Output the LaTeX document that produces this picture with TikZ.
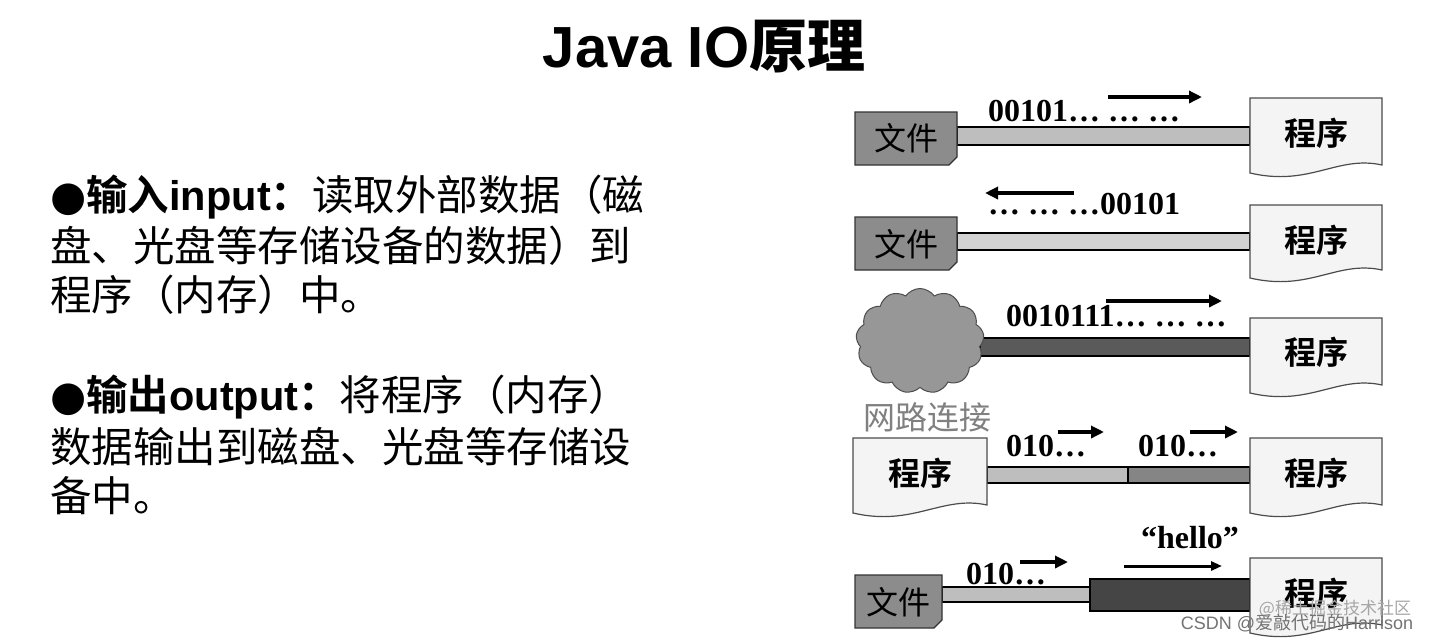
\documentclass[tikz,border=0pt]{standalone}
\usepackage{fontspec}
\usetikzlibrary{shapes.symbols,arrows.meta}
\setmainfont{Liberation Serif}
\newfontfamily\cjk{Noto Sans CJK SC}
\newfontfamily\cjkb{Noto Sans CJK SC Bold}
\newfontfamily\tsans{Liberation Sans}
\newfontfamily\dsans{DejaVu Sans}
\definecolor{filegray}{HTML}{8C8C8C}
\definecolor{barA}{HTML}{BEBEBE}
\definecolor{barB}{HTML}{D2D2D2}
\definecolor{barC}{HTML}{5A5A5A}
\definecolor{barD}{HTML}{858585}
\definecolor{barE}{HTML}{454545}
\definecolor{docfill}{HTML}{F4F4F4}
\tikzset{
  x=1pt,y=-1pt,
  bar/.style={draw=black,line width=1.2pt},
  doc/.style={draw=black!70,fill=docfill,line width=1.2pt},
  filebox/.style={draw=black!80,fill=filegray,line width=1.2pt},
  lbl/.style={font=\cjk\fontsize{32}{32}\selectfont,inner sep=0},
  lblb/.style={font=\cjkb\fontsize{32}{32}\selectfont,inner sep=0},
  num/.style={font=\bfseries\fontsize{32}{32}\selectfont,inner sep=0,anchor=west},
  arr/.style={-{Triangle[length=13pt,width=12pt]},line width=4.5pt},
  body/.style={font=\cjk\fontsize{41.5}{41.5}\selectfont,anchor=west,inner sep=0}
}
\newcommand{\docshape}[4]{% x0 y0 x1 yb
  \path[doc] (#1,#2) -- (#3,#2) -- (#3,#4) .. controls (#3-45,#4-10) and (#1+60,#4+22) .. (#1,#4+8) -- cycle;}
\newcommand{\fileshape}[4]{% x0 y0 x1 y1
  \path[filebox] (#1,#2) -- (#3,#2) -- (#3,#4-8) -- (#3-8,#4) -- (#1,#4) -- cycle;}
\begin{document}
\begin{tikzpicture}
\useasboundingbox[fill=white] (0,0) rectangle (1433,641);
\node[inner sep=0] (title) at (704,47) {\tsans\bfseries\fontsize{58}{58}\selectfont Java IO\cjkb 原理};
% left text
\node[body] (t1) at (50,197) {{\dsans ●}{\cjkb 输入}{\tsans\bfseries input}{\cjkb ：}读取外部数据（磁};
\node[body] (t2) at (50,246) {盘、光盘等存储设备的数据）到};
\node[body] (t3) at (50,295) {程序（内存）中。};
\node[body] (t4) at (50,397) {{\dsans ●}{\cjkb 输出}{\tsans\bfseries output}{\cjkb ：}将程序（内存）};
\node[body] (t5) at (50,447) {数据输出到磁盘、光盘等存储设};
\node[body] (t6) at (50,496) {备中。};
% row 1
\path[bar,fill=barA] (957,127) rectangle (1250,145);
\fileshape{855}{112}{957}{165}
\node[lbl] (f1) at (906,138) {文件};
\docshape{1250}{98}{1382}{165}
\node[lblb] (p1) at (1316,133) {程序};
\node[num] (n1) at (988,111) {00101… … …};
\coordinate (a1s) at (1108,97); \coordinate (a1e) at (1202,97);
\draw[arr] (a1s) -- (a1e);
% row 2
\path[bar,fill=barB] (957,233) rectangle (1250,250);
\fileshape{855}{217}{957}{270}
\node[lbl] (f2) at (906,244) {文件};
\docshape{1250}{205}{1382}{270}
\node[lblb] (p2) at (1316,240) {程序};
\node[num] (n2) at (988,204) {… … …00101};
\coordinate (a2s) at (1074,193); \coordinate (a2e) at (985,193);
\draw[arr] (a2s) -- (a2e);
% row 3
\path[bar,fill=barC] (980,338) rectangle (1250,356);
\node[cloud,cloud puffs=13,cloud puff arc=110,aspect=1.3,draw=black!70,fill=filegray!90,line width=1pt,minimum width=128pt,minimum height=105pt,inner sep=0] (cl) at (920,341) {};
\docshape{1250}{318}{1382}{385}
\node[lblb] (p3) at (1316,352) {程序};
\node[num] (n3) at (1006,316) {0010111… … …};
\coordinate (a3s) at (1106,301); \coordinate (a3e) at (1222,301);
\draw[arr] (a3s) -- (a3e);
\node[lbl,text=black!50] (net) at (927,417) {网路连接};
% row 4
\path[bar,fill=barA] (987,467) rectangle (1128,483);
\path[bar,fill=barD] (1128,467) rectangle (1250,483);
\docshape{853}{438}{987}{505}
\node[lblb] (p4a) at (920,473) {程序};
\docshape{1250}{438}{1382}{505}
\node[lblb] (p4b) at (1316,473) {程序};
\node[num] (n4a) at (1006,446) {010…};
\node[num] (n4b) at (1138,446) {010…};
\coordinate (a4s) at (1058,432); \coordinate (a4e) at (1104,432);
\draw[arr] (a4s) -- (a4e);
\coordinate (a5s) at (1190,432); \coordinate (a5e) at (1238,432);
\draw[arr] (a5s) -- (a5e);
% row 5
\path[bar,fill=barA] (942,587) rectangle (1090,602);
\path[bar,fill=barE] (1090,579) rectangle (1250,611);
\fileshape{855}{575}{942}{628}
\node[lbl] (f5) at (898,602) {文件};
\docshape{1250}{558}{1382}{625}
\node[lblb] (p5) at (1316,593) {程序};
\node[num] (n5) at (966,574) {010…};
\coordinate (a6s) at (1020,562); \coordinate (a6e) at (1068,562);
\draw[arr] (a6s) -- (a6e);
\node[num,anchor=center] (hello) at (1190,538) {“hello”};
\coordinate (a7s) at (1124,566); \coordinate (a7e) at (1222,566);
\draw[-{Triangle[length=11pt,width=9pt]},line width=3pt] (a7s) -- (a7e);
% watermarks
\node[font=\cjk\fontsize{17}{17}\selectfont,text=black!35,inner sep=0] (wm1) at (1335,609) {@稀土掘金技术社区};
\node[font=\cjk\fontsize{18}{18}\selectfont,text=black!55,inner sep=0] (wm2) at (1297,623) {{\tsans CSDN @}爱敲代码的{\tsans Harrison}};
\end{tikzpicture}
\end{document}
